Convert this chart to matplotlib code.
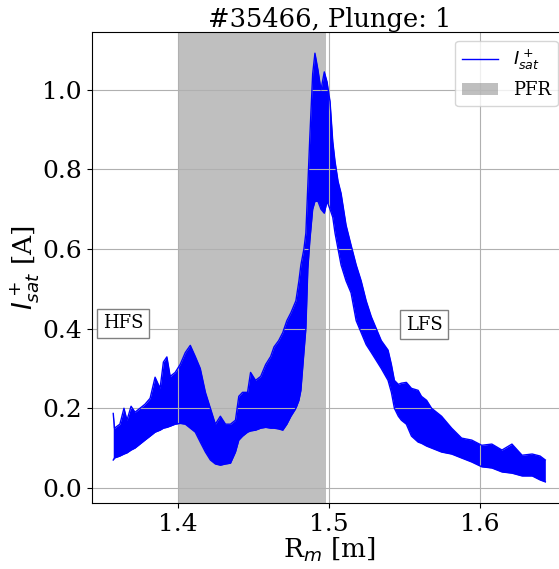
import matplotlib
matplotlib.use('Agg')
import matplotlib.pyplot as plt

plt.rcParams['font.family'] = 'DejaVu Serif'

# Probe position R_m [m] and the upper / lower edge of the noisy I_sat band [A]
r_m = [1.3572, 1.3580, 1.3616, 1.3643, 1.3663, 1.3690, 1.3716, 1.3749, 1.3782,
       1.3816, 1.3849, 1.3882, 1.3904, 1.3927, 1.3949, 1.3982, 1.4015, 1.4049,
       1.4082, 1.4115, 1.4148, 1.4182, 1.4215, 1.4248, 1.4281, 1.4315, 1.4348,
       1.4381, 1.4403, 1.4428, 1.4461, 1.4481, 1.4514, 1.4548, 1.4581, 1.4614,
       1.4636, 1.4667, 1.4694, 1.4721, 1.4748, 1.4781, 1.4801, 1.4814, 1.4834,
       1.4847, 1.4860, 1.4873, 1.4892, 1.4907, 1.4927, 1.4947, 1.4969, 1.4987,
       1.5007, 1.5025, 1.5040, 1.5060, 1.5080, 1.5113, 1.5146, 1.5180, 1.5213,
       1.5246, 1.5280, 1.5313, 1.5346, 1.5391, 1.5413, 1.5433, 1.5459, 1.5479,
       1.5512, 1.5546, 1.5590, 1.5612, 1.5646, 1.5679, 1.5745, 1.5812, 1.5878,
       1.5945, 1.6011, 1.6078, 1.6145, 1.6211, 1.6278, 1.6345, 1.6397, 1.6432]
isat_hi = [0.187, 0.150, 0.160, 0.200, 0.170, 0.205, 0.190, 0.200, 0.210,
           0.225, 0.278, 0.250, 0.316, 0.329, 0.280, 0.290, 0.310, 0.340,
           0.358, 0.330, 0.300, 0.240, 0.200, 0.160, 0.180, 0.160, 0.160,
           0.170, 0.230, 0.240, 0.240, 0.290, 0.270, 0.280, 0.310, 0.330,
           0.354, 0.370, 0.390, 0.420, 0.440, 0.470, 0.520, 0.560, 0.600,
           0.640, 0.760, 0.880, 1.040, 1.092, 1.050, 1.000, 1.045, 1.020,
           0.970, 0.870, 0.820, 0.770, 0.740, 0.660, 0.610, 0.560, 0.520,
           0.470, 0.430, 0.400, 0.370, 0.346, 0.310, 0.270, 0.260, 0.263,
           0.265, 0.250, 0.245, 0.230, 0.220, 0.200, 0.180, 0.150, 0.125,
           0.120, 0.107, 0.110, 0.095, 0.110, 0.082, 0.085, 0.080, 0.070]
isat_lo = [0.070, 0.075, 0.080, 0.085, 0.088, 0.095, 0.100, 0.110, 0.120,
           0.130, 0.140, 0.145, 0.150, 0.152, 0.155, 0.160, 0.162, 0.160,
           0.150, 0.140, 0.115, 0.090, 0.070, 0.060, 0.057, 0.060, 0.062,
           0.090, 0.120, 0.130, 0.140, 0.143, 0.145, 0.150, 0.152, 0.150,
           0.150, 0.148, 0.145, 0.160, 0.180, 0.200, 0.220, 0.245, 0.340,
           0.400, 0.550, 0.620, 0.700, 0.720, 0.720, 0.700, 0.690, 0.720,
           0.700, 0.680, 0.640, 0.600, 0.560, 0.520, 0.490, 0.420, 0.390,
           0.360, 0.340, 0.320, 0.300, 0.270, 0.240, 0.200, 0.180, 0.170,
           0.160, 0.130, 0.115, 0.112, 0.105, 0.100, 0.090, 0.085, 0.075,
           0.065, 0.053, 0.050, 0.040, 0.037, 0.030, 0.030, 0.020, 0.015]

pfr_range = (1.4, 1.498)
shot = 35466
plunge = 1

fig = plt.figure(figsize=(5.59, 5.69), dpi=100)
ax = fig.add_axes([0.1642, 0.116, 0.85, 0.8283])

ax.axvspan(pfr_range[0], pfr_range[1], color='gray', alpha=0.5, lw=0, label='PFR')
ax.fill_between(r_m, isat_lo, isat_hi, color='blue', lw=0)
ax.plot(r_m, isat_hi, color='blue', lw=1, label=r'$I^+_{sat}$')
ax.plot(r_m, isat_lo, color='blue', lw=1)

box = dict(boxstyle='square,pad=0.3', facecolor='white', edgecolor='gray')
ax.text(1.3636, 0.413, 'HFS', fontsize=13, ha='center', va='center', bbox=box)
ax.text(1.563, 0.41, 'LFS', fontsize=13, ha='center', va='center', bbox=box)

ax.set_xlim(1.343, 1.6575)
ax.set_ylim(-0.038, 1.146)
ax.set_xticks([1.4, 1.5, 1.6])
ax.tick_params(labelsize=18)
ax.set_xlabel(r'R$_m$ [m]', fontsize=19, labelpad=0)
ax.set_ylabel(r'$I^+_{sat}$ [A]', fontsize=19, labelpad=0)
ax.set_title('#%d, Plunge: %d' % (shot, plunge), fontsize=18.5, pad=2)
ax.grid(True)

handles, labels = ax.get_legend_handles_labels()
ax.legend(handles[::-1], labels[::-1], loc='upper right', fontsize=13)

fig.savefig('out.png', dpi=100)
